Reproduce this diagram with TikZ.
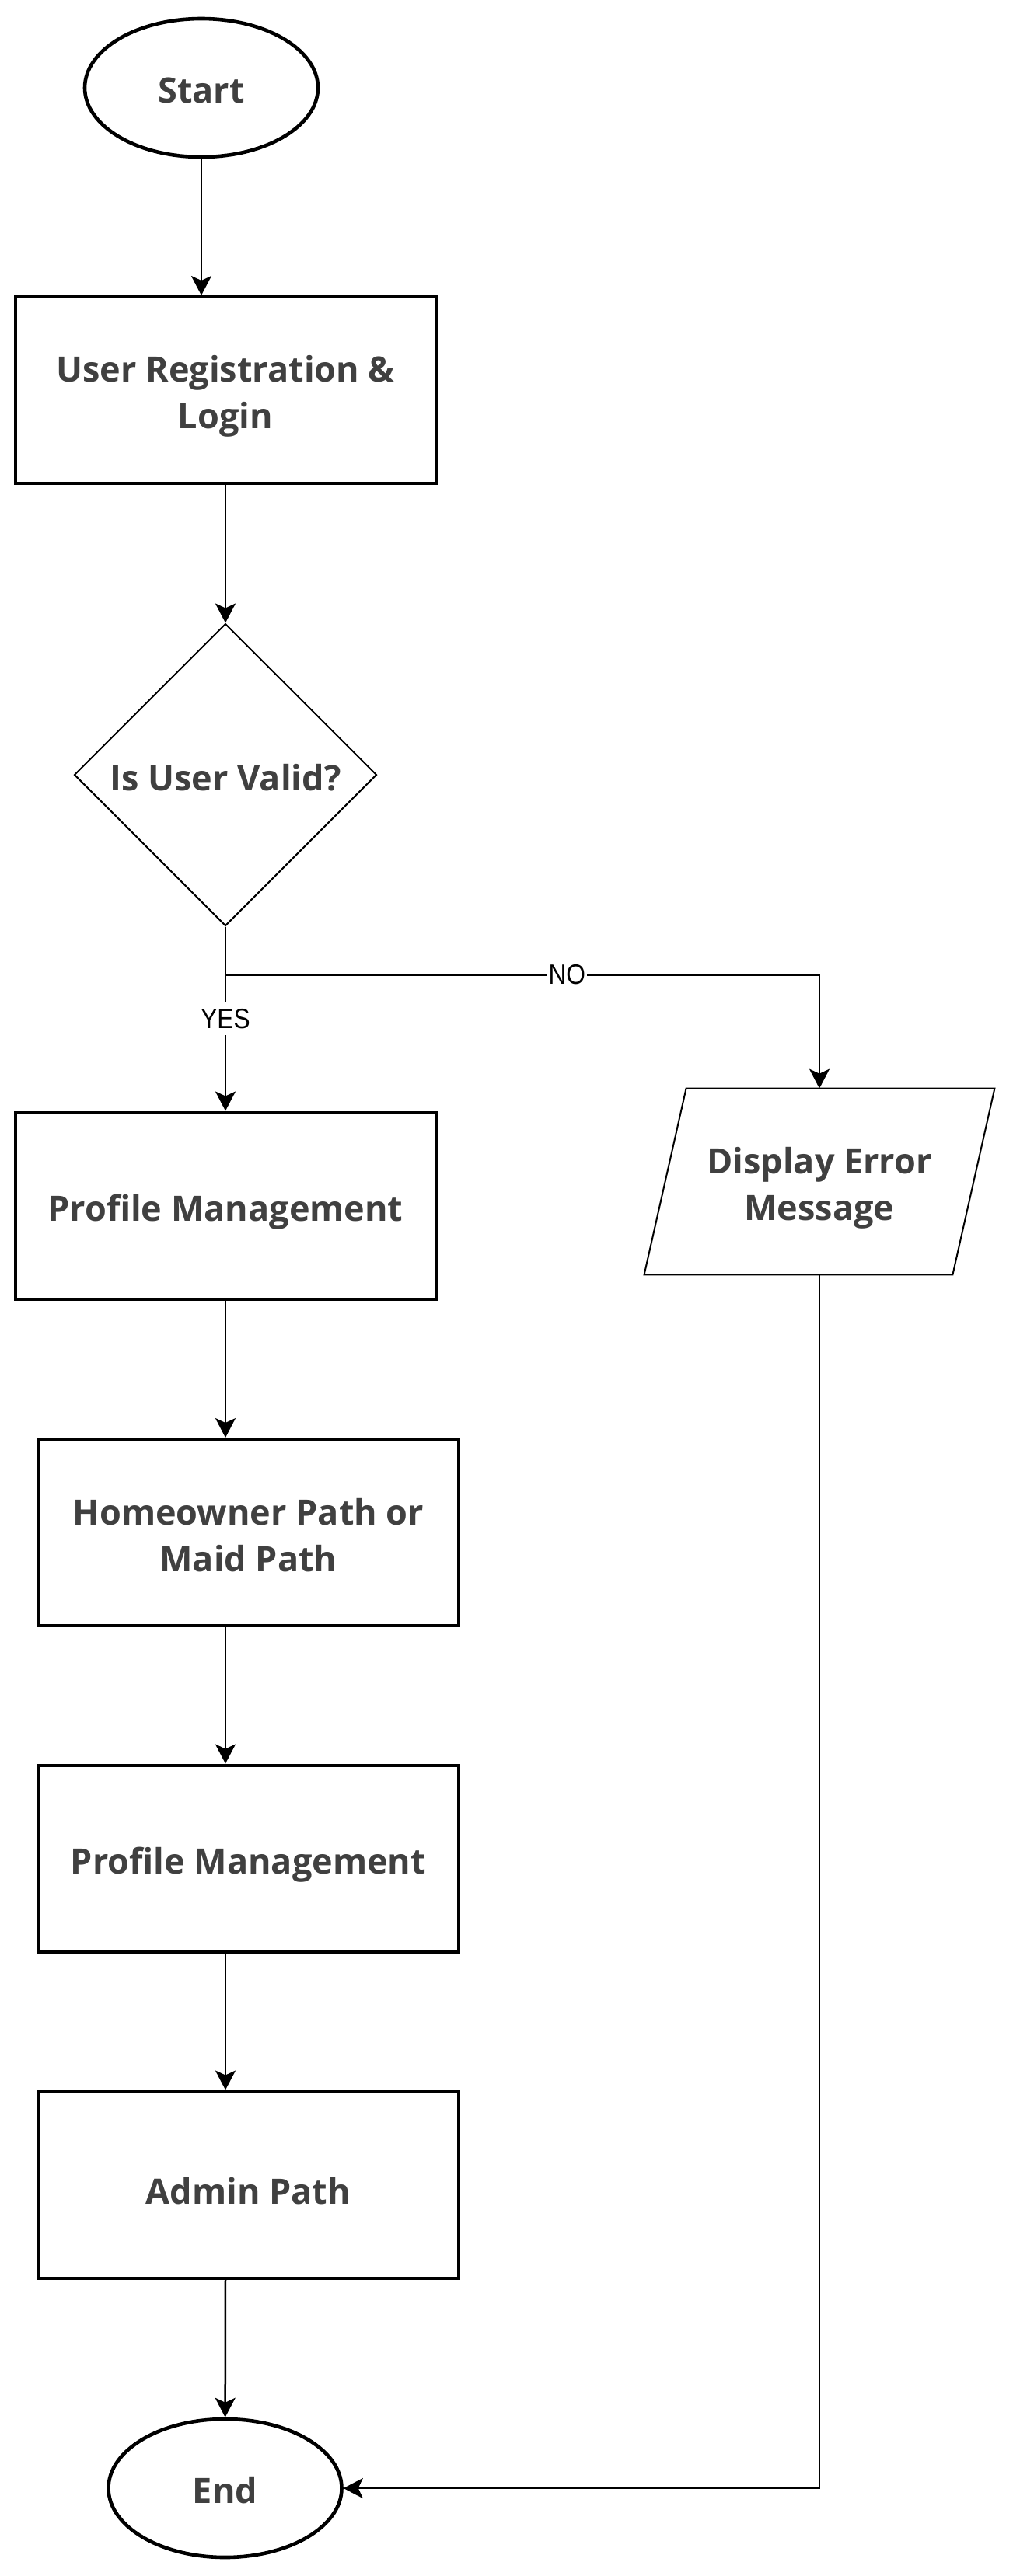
\documentclass[tikz,border=0pt]{standalone}
\usepackage{fontspec}
\setmainfont{Open Sans}
\newfontfamily\labelfont[FakeStretch=0.88]{Liberation Sans}
\usetikzlibrary{shapes.geometric,arrows.meta,positioning}
\definecolor{textgray}{HTML}{404040}
\newcommand{\boxstrut}[1]{\rule{0pt}{#1}}

\begin{document}
\begin{tikzpicture}[
  every node/.style={font=\fontsize{22.5}{30}\selectfont\bfseries, text=textgray},
  lower/.style={execute at begin node={\boxstrut{#1}}},
  box/.style={
    draw,
    line width=2pt,
    align=center,
    lower=25pt,
    minimum width=270.5pt,
    minimum height=120pt
  },
  terminal/.style={draw, ellipse, line width=2.3pt, lower=20pt, minimum width=150pt, minimum height=89pt},
  decision/.style={draw, diamond, aspect=1, inner sep=0pt, line width=1pt, lower=21pt, minimum width=194.5pt, minimum height=194.5pt},
  io/.style={align=center, minimum width=225pt, minimum height=119.5pt},
  answer/.style={font=\labelfont\fontsize{18}{20}\selectfont, text=black, fill=white, inner xsep=1pt, inner ysep=4pt},
  arrow/.style={-{Stealth[length=12.5pt,width=13pt,inset=3pt]}, line width=1.25pt}
]
\useasboundingbox (0,0) rectangle (651pt,-1657.5pt);
\node[terminal] (start) at (129.5pt,-56.5pt) {Start};
\node[box, below of=start, node distance=194.5pt, xshift=15.5pt] (reg) {\boxstrut{25pt}User Registration \&\\Login};
\node[decision, below of=reg, node distance=247.5pt] (valid) {Is User Valid?};
\node[box, below of=valid, node distance=277.25pt] (prof) {Profile Management};
\node[io, right of=prof, node distance=382pt, yshift=15.5pt] (err) {\boxstrut{25pt}Display Error\\Message};
\node[box, below of=prof, node distance=210.25pt, xshift=14.75pt] (home) {\boxstrut{21pt}Homeowner Path or\\Maid Path};
\node[box, below of=home, node distance=209.75pt] (prof2) {Profile Management};
\node[box, below of=prof2, node distance=210pt] (admin) {Admin Path};
\node[terminal, below of=admin, node distance=195.25pt, xshift=-15pt] (finish) {End};
\draw[line width=1pt] ([xshift=27pt]err.north west) -- (err.north east)
  -- ([xshift=-27pt]err.south east) -- (err.south west) -- cycle;
\coordinate[below=31pt of valid.south] (split);
\draw[arrow] (start) -- (start |- reg.north);
\draw[arrow] (reg) -- (valid);
\draw[arrow] (valid) -- node[answer, pos=0.5] {YES} (prof);
\draw[arrow] (valid.south) -- (split) -- node[answer, pos=0.575] {NO} (split -| err.north) -- (err.north);
\draw[arrow] (prof) -- (prof |- home.north);
\draw[arrow] (prof |- home.south) -- (prof |- prof2.north);
\draw[arrow] (prof |- prof2.south) -- (prof |- admin.north);
\draw[arrow] (prof |- admin.south) -- (finish);
\draw[arrow] (err) |- (finish);
\end{tikzpicture}
\end{document}
